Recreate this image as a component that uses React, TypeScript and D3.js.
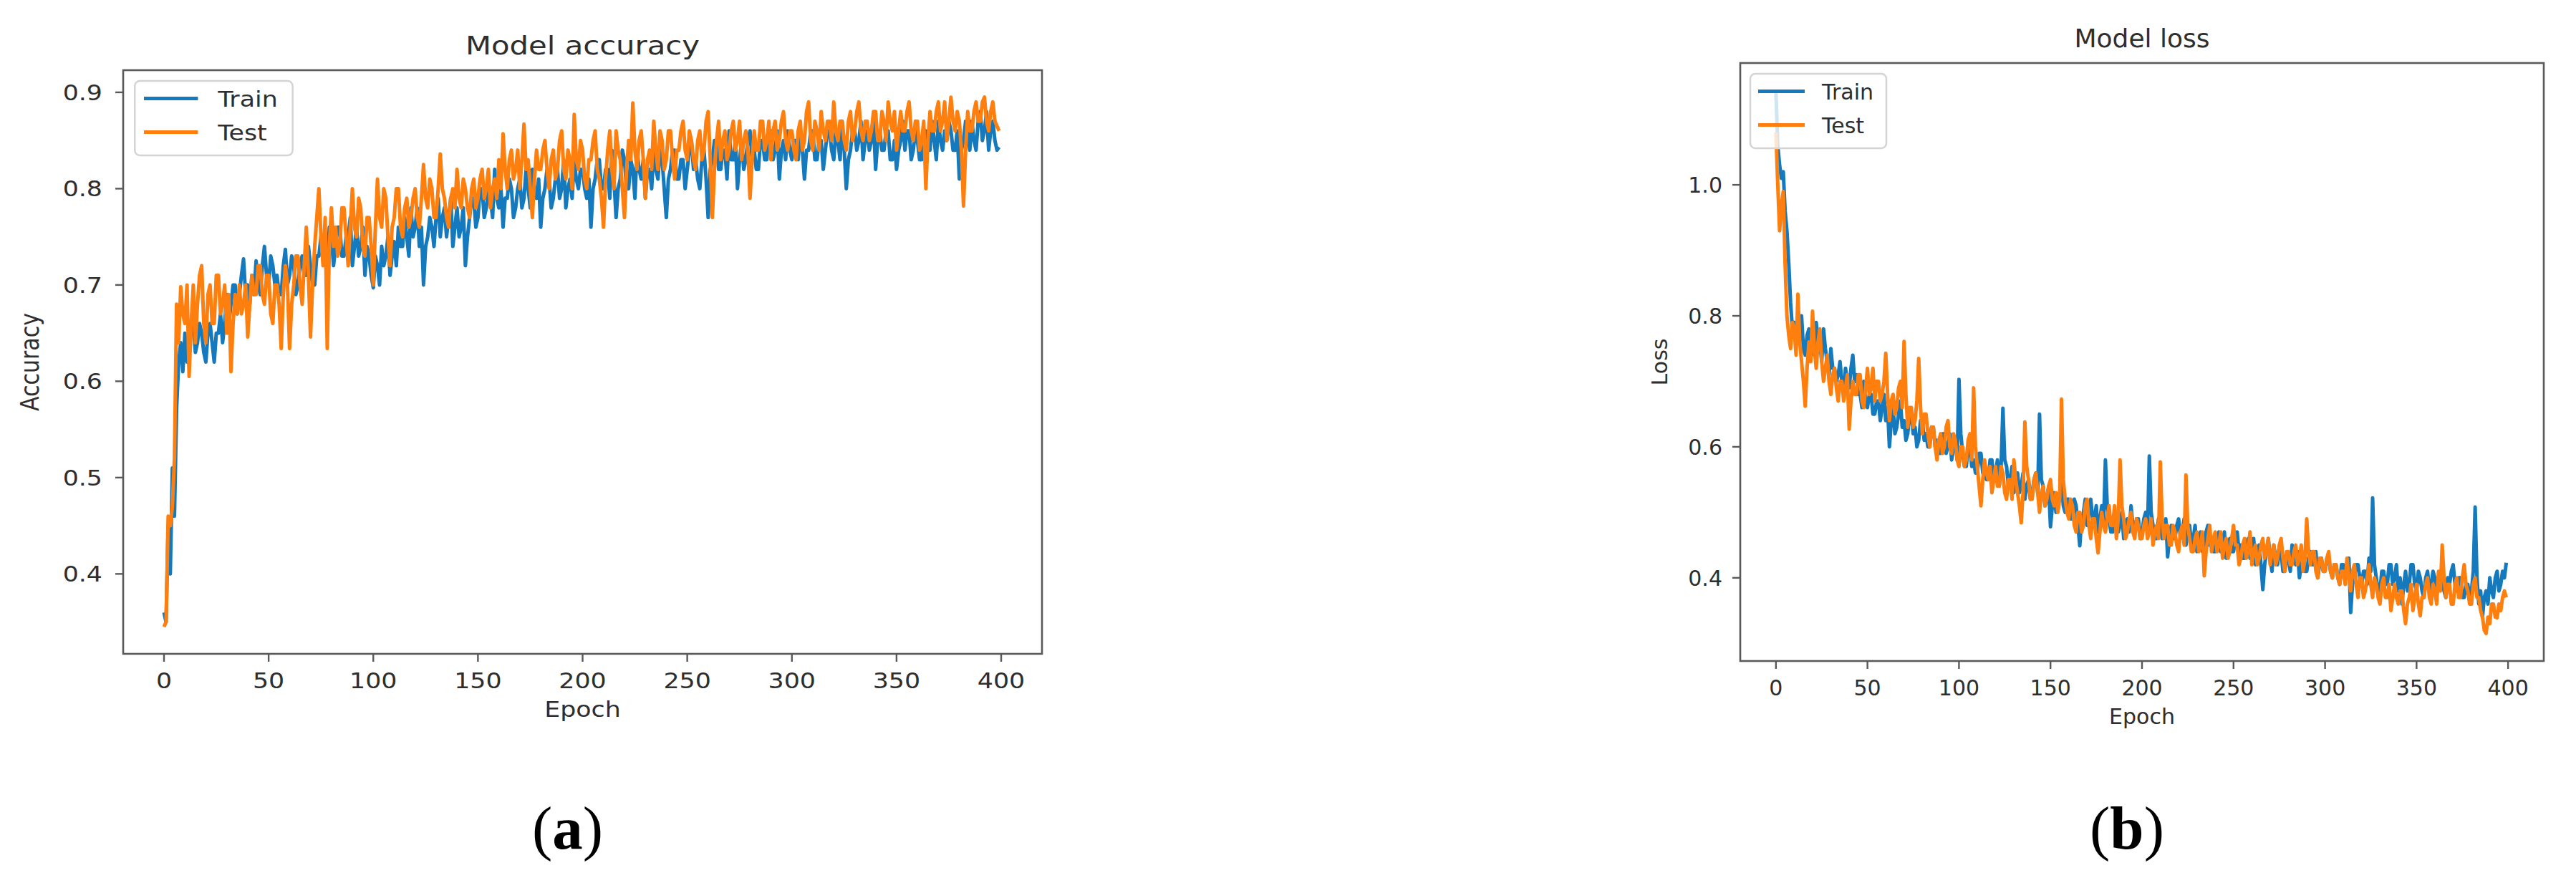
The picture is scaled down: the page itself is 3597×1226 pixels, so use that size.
import React from "react";
import * as d3 from "d3";

// one value per epoch
const epochs = d3.range(0, 400);

const accTrain = [
  0.36, 0.35, 0.45, 0.40, 0.51, 0.46, 0.57, 0.62, 0.64, 0.61, 0.65, 0.62, 0.63, 0.66, 0.66, 0.63, 0.64, 0.66, 0.65, 0.63,
  0.62, 0.65, 0.66, 0.64, 0.62, 0.65, 0.65, 0.67, 0.64, 0.66, 0.69, 0.66, 0.68, 0.70, 0.70, 0.67, 0.69, 0.71, 0.727, 0.69,
  0.70, 0.68, 0.71, 0.69, 0.725, 0.70, 0.69, 0.72, 0.74, 0.71, 0.70, 0.73, 0.72, 0.70, 0.71, 0.69, 0.69, 0.72, 0.737, 0.70,
  0.71, 0.73, 0.72, 0.69, 0.70, 0.72, 0.73, 0.71, 0.71, 0.74, 0.72, 0.70, 0.70, 0.73, 0.73, 0.75, 0.74, 0.72, 0.72, 0.76,
  0.75, 0.72, 0.74, 0.76, 0.76, 0.73, 0.73, 0.75, 0.75, 0.77, 0.72, 0.74, 0.76, 0.73, 0.74, 0.76, 0.71, 0.74, 0.73, 0.71,
  0.697, 0.73, 0.72, 0.70, 0.74, 0.72, 0.73, 0.75, 0.71, 0.73, 0.745, 0.72, 0.76, 0.74, 0.74, 0.77, 0.75, 0.73, 0.78, 0.75,
  0.76, 0.78, 0.74, 0.76, 0.70, 0.74, 0.75, 0.77, 0.76, 0.74, 0.77, 0.79, 0.75, 0.77, 0.78, 0.75, 0.77, 0.79, 0.74, 0.76,
  0.78, 0.75, 0.76, 0.78, 0.72, 0.75, 0.77, 0.79, 0.79, 0.76, 0.77, 0.80, 0.80, 0.77, 0.78, 0.80, 0.79, 0.77, 0.82, 0.79,
  0.78, 0.80, 0.76, 0.79, 0.79, 0.81, 0.80, 0.77, 0.78, 0.80, 0.81, 0.78, 0.79, 0.82, 0.80, 0.78, 0.82, 0.80, 0.79, 0.81,
  0.76, 0.79, 0.80, 0.82, 0.81, 0.78, 0.79, 0.81, 0.82, 0.79, 0.80, 0.83, 0.78, 0.80, 0.81, 0.79, 0.83, 0.81, 0.80, 0.82,
  0.82, 0.80, 0.79, 0.81, 0.76, 0.80, 0.81, 0.83, 0.83, 0.80, 0.80, 0.82, 0.82, 0.79, 0.84, 0.81, 0.77, 0.80, 0.81, 0.84,
  0.83, 0.80, 0.80, 0.83, 0.82, 0.79, 0.84, 0.82, 0.81, 0.83, 0.79, 0.82, 0.82, 0.80, 0.84, 0.82, 0.81, 0.84, 0.83, 0.80,
  0.77, 0.81, 0.82, 0.84, 0.84, 0.81, 0.81, 0.83, 0.83, 0.80, 0.82, 0.84, 0.85, 0.82, 0.83, 0.81, 0.80, 0.83, 0.84, 0.81,
  0.77, 0.82, 0.83, 0.85, 0.85, 0.82, 0.82, 0.84, 0.84, 0.81, 0.86, 0.83, 0.83, 0.85, 0.80, 0.83, 0.85, 0.82, 0.83, 0.85,
  0.86, 0.83, 0.84, 0.82, 0.82, 0.85, 0.85, 0.83, 0.83, 0.86, 0.86, 0.83, 0.84, 0.86, 0.81, 0.84, 0.85, 0.83, 0.86, 0.84,
  0.83, 0.85, 0.85, 0.83, 0.86, 0.84, 0.81, 0.84, 0.84, 0.86, 0.86, 0.83, 0.83, 0.85, 0.85, 0.82, 0.84, 0.86, 0.86, 0.84,
  0.83, 0.86, 0.85, 0.83, 0.87, 0.84, 0.80, 0.83, 0.84, 0.86, 0.86, 0.84, 0.85, 0.87, 0.83, 0.85, 0.86, 0.84, 0.85, 0.87,
  0.82, 0.85, 0.86, 0.84, 0.84, 0.86, 0.86, 0.83, 0.83, 0.85, 0.82, 0.84, 0.85, 0.87, 0.84, 0.86, 0.86, 0.83, 0.84, 0.86,
  0.85, 0.83, 0.83, 0.86, 0.86, 0.84, 0.84, 0.87, 0.85, 0.83, 0.87, 0.85, 0.84, 0.86, 0.85, 0.87, 0.86, 0.84, 0.84, 0.86,
  0.81, 0.84, 0.85, 0.87, 0.86, 0.84, 0.87, 0.85, 0.84, 0.87, 0.88, 0.85, 0.86, 0.88, 0.84, 0.86, 0.87, 0.85, 0.84, 0.843,
];

const accTest = [
  0.345, 0.35, 0.46, 0.45, 0.47, 0.52, 0.68, 0.64, 0.698, 0.67, 0.66, 0.70, 0.605, 0.66, 0.70, 0.64, 0.68, 0.71, 0.72, 0.66,
  0.64, 0.69, 0.70, 0.66, 0.66, 0.71, 0.71, 0.67, 0.68, 0.70, 0.65, 0.69, 0.61, 0.66, 0.69, 0.67, 0.70, 0.67, 0.68, 0.70,
  0.646, 0.68, 0.71, 0.69, 0.69, 0.72, 0.72, 0.69, 0.68, 0.71, 0.71, 0.67, 0.66, 0.70, 0.70, 0.68, 0.634, 0.69, 0.72, 0.70,
  0.634, 0.68, 0.70, 0.73, 0.73, 0.70, 0.68, 0.72, 0.76, 0.71, 0.646, 0.70, 0.74, 0.77, 0.80, 0.75, 0.72, 0.77, 0.634, 0.74,
  0.78, 0.74, 0.76, 0.73, 0.74, 0.78, 0.78, 0.75, 0.72, 0.76, 0.80, 0.76, 0.75, 0.79, 0.78, 0.74, 0.73, 0.77, 0.77, 0.74,
  0.70, 0.76, 0.81, 0.77, 0.76, 0.80, 0.79, 0.75, 0.72, 0.76, 0.77, 0.80, 0.80, 0.76, 0.75, 0.78, 0.79, 0.76, 0.77, 0.79,
  0.80, 0.77, 0.76, 0.79, 0.825, 0.79, 0.78, 0.81, 0.80, 0.77, 0.77, 0.80, 0.836, 0.80, 0.79, 0.77, 0.76, 0.79, 0.80, 0.78,
  0.82, 0.79, 0.78, 0.81, 0.80, 0.78, 0.77, 0.80, 0.81, 0.78, 0.79, 0.81, 0.82, 0.79, 0.80, 0.82, 0.78, 0.80, 0.81, 0.79,
  0.83, 0.80, 0.857, 0.82, 0.80, 0.83, 0.84, 0.81, 0.82, 0.84, 0.80, 0.83, 0.867, 0.82, 0.83, 0.80, 0.77, 0.81, 0.84, 0.82,
  0.82, 0.84, 0.85, 0.82, 0.80, 0.83, 0.84, 0.81, 0.82, 0.85, 0.86, 0.82, 0.81, 0.84, 0.83, 0.80, 0.877, 0.83, 0.82, 0.85,
  0.84, 0.81, 0.80, 0.83, 0.83, 0.85, 0.86, 0.82, 0.81, 0.79, 0.76, 0.81, 0.84, 0.86, 0.82, 0.80, 0.86, 0.84, 0.83, 0.80,
  0.77, 0.82, 0.85, 0.83, 0.889, 0.84, 0.82, 0.85, 0.86, 0.83, 0.79, 0.83, 0.84, 0.82, 0.87, 0.84, 0.82, 0.86, 0.85, 0.82,
  0.83, 0.86, 0.86, 0.83, 0.81, 0.84, 0.84, 0.86, 0.87, 0.84, 0.83, 0.86, 0.85, 0.83, 0.82, 0.85, 0.86, 0.83, 0.84, 0.87,
  0.88, 0.83, 0.77, 0.82, 0.85, 0.87, 0.83, 0.85, 0.86, 0.83, 0.84, 0.86, 0.87, 0.84, 0.85, 0.87, 0.83, 0.85, 0.86, 0.84,
  0.79, 0.83, 0.86, 0.84, 0.84, 0.87, 0.87, 0.84, 0.85, 0.87, 0.83, 0.86, 0.87, 0.84, 0.85, 0.87, 0.88, 0.85, 0.84, 0.86,
  0.86, 0.84, 0.83, 0.86, 0.87, 0.84, 0.85, 0.88, 0.89, 0.85, 0.84, 0.87, 0.86, 0.84, 0.88, 0.86, 0.85, 0.87, 0.87, 0.85,
  0.89, 0.86, 0.85, 0.87, 0.87, 0.85, 0.84, 0.87, 0.88, 0.85, 0.86, 0.88, 0.89, 0.86, 0.85, 0.87, 0.87, 0.85, 0.86, 0.88,
  0.88, 0.85, 0.85, 0.88, 0.87, 0.85, 0.89, 0.87, 0.86, 0.88, 0.84, 0.86, 0.88, 0.86, 0.86, 0.88, 0.89, 0.86, 0.85, 0.87,
  0.87, 0.84, 0.85, 0.87, 0.80, 0.85, 0.88, 0.86, 0.86, 0.88, 0.89, 0.86, 0.87, 0.89, 0.85, 0.87, 0.895, 0.87, 0.86, 0.88,
  0.87, 0.84, 0.782, 0.84, 0.88, 0.86, 0.86, 0.88, 0.89, 0.87, 0.87, 0.89, 0.895, 0.87, 0.86, 0.88, 0.89, 0.87, 0.865, 0.86,
];

const lossTrain = [
  1.14, 1.06, 1.03, 1.01, 1.02, 0.96, 0.93, 0.88, 0.82, 0.78, 0.79, 0.76, 0.76, 0.78, 0.80, 0.75, 0.74, 0.77, 0.78, 0.75,
  0.77, 0.74, 0.79, 0.76, 0.76, 0.73, 0.78, 0.75, 0.73, 0.71, 0.75, 0.72, 0.72, 0.70, 0.71, 0.73, 0.70, 0.68, 0.72, 0.70,
  0.69, 0.72, 0.74, 0.70, 0.71, 0.68, 0.68, 0.66, 0.70, 0.67, 0.66, 0.68, 0.68, 0.65, 0.65, 0.67, 0.67, 0.64, 0.66, 0.68,
  0.64, 0.66, 0.60, 0.64, 0.66, 0.62, 0.63, 0.65, 0.67, 0.63, 0.64, 0.61, 0.62, 0.65, 0.65, 0.62, 0.63, 0.60, 0.61, 0.64,
  0.64, 0.61, 0.62, 0.60, 0.60, 0.63, 0.63, 0.60, 0.61, 0.59, 0.59, 0.62, 0.62, 0.59, 0.60, 0.62, 0.58, 0.60, 0.61, 0.58,
  0.703, 0.62, 0.59, 0.57, 0.57, 0.60, 0.60, 0.57, 0.58, 0.56, 0.56, 0.59, 0.59, 0.56, 0.57, 0.55, 0.55, 0.58, 0.58, 0.55,
  0.56, 0.58, 0.54, 0.57, 0.659, 0.58, 0.57, 0.54, 0.55, 0.57, 0.53, 0.55, 0.56, 0.53, 0.54, 0.56, 0.52, 0.54, 0.55, 0.52,
  0.53, 0.55, 0.56, 0.53, 0.65, 0.55, 0.54, 0.51, 0.52, 0.54, 0.478, 0.51, 0.53, 0.50, 0.51, 0.53, 0.55, 0.51, 0.50, 0.52,
  0.52, 0.49, 0.49, 0.52, 0.51, 0.48, 0.449, 0.49, 0.50, 0.52, 0.48, 0.50, 0.52, 0.49, 0.49, 0.51, 0.47, 0.49, 0.51, 0.48,
  0.58, 0.51, 0.49, 0.47, 0.47, 0.50, 0.50, 0.47, 0.48, 0.50, 0.46, 0.48, 0.49, 0.47, 0.51, 0.48, 0.47, 0.49, 0.49, 0.46,
  0.47, 0.49, 0.50, 0.47, 0.586, 0.50, 0.48, 0.46, 0.46, 0.49, 0.49, 0.46, 0.47, 0.49, 0.432, 0.46, 0.48, 0.46, 0.46, 0.48,
  0.49, 0.46, 0.47, 0.49, 0.45, 0.47, 0.48, 0.45, 0.46, 0.48, 0.44, 0.46, 0.47, 0.44, 0.45, 0.47, 0.48, 0.45, 0.46, 0.44,
  0.44, 0.46, 0.47, 0.44, 0.45, 0.47, 0.43, 0.45, 0.46, 0.44, 0.44, 0.46, 0.47, 0.44, 0.45, 0.43, 0.43, 0.45, 0.46, 0.43,
  0.44, 0.46, 0.42, 0.44, 0.45, 0.42, 0.382, 0.42, 0.44, 0.46, 0.43, 0.41, 0.45, 0.43, 0.42, 0.44, 0.44, 0.41, 0.41, 0.43,
  0.43, 0.41, 0.45, 0.43, 0.42, 0.44, 0.40, 0.42, 0.43, 0.41, 0.41, 0.43, 0.44, 0.42, 0.42, 0.44, 0.40, 0.42, 0.43, 0.41,
  0.41, 0.43, 0.43, 0.41, 0.40, 0.42, 0.42, 0.40, 0.39, 0.42, 0.42, 0.40, 0.41, 0.43, 0.347, 0.39, 0.40, 0.42, 0.42, 0.40,
  0.39, 0.41, 0.41, 0.39, 0.43, 0.41, 0.522, 0.42, 0.40, 0.38, 0.38, 0.41, 0.41, 0.39, 0.39, 0.42, 0.42, 0.39, 0.40, 0.42,
  0.38, 0.40, 0.36, 0.39, 0.41, 0.38, 0.39, 0.42, 0.42, 0.39, 0.38, 0.41, 0.40, 0.38, 0.37, 0.40, 0.41, 0.38, 0.39, 0.41,
  0.40, 0.38, 0.38, 0.40, 0.41, 0.38, 0.37, 0.40, 0.39, 0.41, 0.42, 0.39, 0.38, 0.40, 0.40, 0.37, 0.37, 0.39, 0.39, 0.37,
  0.38, 0.41, 0.508, 0.40, 0.36, 0.38, 0.34, 0.37, 0.38, 0.36, 0.40, 0.38, 0.37, 0.40, 0.41, 0.38, 0.39, 0.41, 0.40, 0.423,
];

const lossTest = [
  1.08, 1.00, 0.93, 0.97, 0.99, 0.88, 0.80, 0.77, 0.75, 0.79, 0.78, 0.74, 0.833, 0.76, 0.73, 0.70, 0.662, 0.72, 0.76, 0.73,
  0.807, 0.75, 0.72, 0.76, 0.78, 0.73, 0.70, 0.72, 0.74, 0.70, 0.68, 0.71, 0.72, 0.69, 0.67, 0.70, 0.70, 0.67, 0.69, 0.71,
  0.627, 0.67, 0.70, 0.68, 0.68, 0.71, 0.71, 0.67, 0.66, 0.69, 0.72, 0.68, 0.69, 0.72, 0.67, 0.70, 0.70, 0.67, 0.68, 0.70,
  0.743, 0.68, 0.64, 0.67, 0.68, 0.65, 0.66, 0.69, 0.70, 0.66, 0.761, 0.68, 0.63, 0.66, 0.66, 0.63, 0.64, 0.67, 0.735, 0.66,
  0.62, 0.65, 0.65, 0.62, 0.60, 0.63, 0.63, 0.60, 0.58, 0.61, 0.62, 0.59, 0.60, 0.63, 0.64, 0.60, 0.59, 0.62, 0.61, 0.58,
  0.57, 0.60, 0.60, 0.57, 0.58, 0.61, 0.62, 0.58, 0.69, 0.60, 0.57, 0.54, 0.51, 0.55, 0.58, 0.56, 0.55, 0.57, 0.53, 0.55,
  0.57, 0.54, 0.54, 0.57, 0.56, 0.53, 0.52, 0.55, 0.55, 0.52, 0.58, 0.55, 0.53, 0.51, 0.484, 0.53, 0.638, 0.57, 0.55, 0.52,
  0.52, 0.55, 0.56, 0.53, 0.50, 0.53, 0.54, 0.51, 0.52, 0.54, 0.55, 0.52, 0.51, 0.53, 0.50, 0.52, 0.673, 0.55, 0.52, 0.50,
  0.49, 0.52, 0.51, 0.48, 0.47, 0.50, 0.50, 0.47, 0.48, 0.51, 0.52, 0.48, 0.46, 0.49, 0.49, 0.46, 0.438, 0.47, 0.50, 0.48,
  0.47, 0.49, 0.51, 0.48, 0.48, 0.51, 0.46, 0.49, 0.58, 0.51, 0.49, 0.46, 0.47, 0.49, 0.50, 0.47, 0.46, 0.49, 0.48, 0.46,
  0.46, 0.48, 0.49, 0.46, 0.47, 0.49, 0.45, 0.47, 0.48, 0.46, 0.577, 0.49, 0.46, 0.48, 0.48, 0.45, 0.45, 0.48, 0.47, 0.45,
  0.44, 0.47, 0.48, 0.45, 0.557, 0.48, 0.46, 0.44, 0.44, 0.46, 0.47, 0.44, 0.45, 0.47, 0.403, 0.44, 0.46, 0.48, 0.44, 0.46,
  0.47, 0.44, 0.45, 0.47, 0.43, 0.45, 0.46, 0.43, 0.44, 0.46, 0.48, 0.45, 0.45, 0.42, 0.43, 0.45, 0.46, 0.43, 0.44, 0.47,
  0.42, 0.44, 0.45, 0.42, 0.43, 0.45, 0.46, 0.43, 0.44, 0.46, 0.42, 0.44, 0.45, 0.42, 0.43, 0.45, 0.46, 0.43, 0.41, 0.44,
  0.44, 0.42, 0.42, 0.44, 0.45, 0.42, 0.43, 0.45, 0.41, 0.43, 0.49, 0.44, 0.42, 0.44, 0.44, 0.41, 0.40, 0.43, 0.43, 0.41,
  0.41, 0.43, 0.44, 0.41, 0.40, 0.42, 0.42, 0.40, 0.39, 0.41, 0.41, 0.39, 0.43, 0.40, 0.38, 0.41, 0.42, 0.39, 0.37, 0.40,
  0.40, 0.37, 0.38, 0.40, 0.42, 0.39, 0.37, 0.40, 0.39, 0.37, 0.36, 0.39, 0.40, 0.37, 0.37, 0.39, 0.35, 0.37, 0.39, 0.37,
  0.36, 0.38, 0.38, 0.35, 0.33, 0.36, 0.37, 0.39, 0.35, 0.37, 0.39, 0.36, 0.342, 0.37, 0.37, 0.39, 0.40, 0.37, 0.36, 0.39,
  0.38, 0.36, 0.41, 0.38, 0.45, 0.40, 0.37, 0.39, 0.39, 0.36, 0.36, 0.39, 0.40, 0.37, 0.37, 0.40, 0.42, 0.39, 0.38, 0.36,
  0.36, 0.39, 0.40, 0.37, 0.37, 0.35, 0.34, 0.32, 0.315, 0.34, 0.33, 0.36, 0.36, 0.34, 0.339, 0.36, 0.35, 0.37, 0.38, 0.37,
];

const xTickValues = [0, 50, 100, 150, 200, 250, 300, 350, 400];
const accTickValues = [0.4, 0.5, 0.6, 0.7, 0.8, 0.9];
const lossTickValues = [0.4, 0.6, 0.8, 1.0];
const legendLabels = ["Train", "Test"];
const seriesColors = ["#1479bd", "#ff7f0e"];

const FONT = "'DejaVu Sans', sans-serif";
const INK = "#2e2e2e";
const SPINE = "#595959";
const TICK_SIZE = 30;

// text that can be stretched sideways (the left figure was widened as a bitmap)
function Txt({ x, y, sx = 1, rotate = false, anchor = "middle", size = TICK_SIZE, children }) {
  return (
    <text
      transform={`translate(${x},${y}) scale(${sx},1)${rotate ? " rotate(-90)" : ""}`}
      textAnchor={anchor}
      fontFamily={FONT}
      fontSize={size}
      fill={INK}
    >
      {children}
    </text>
  );
}

function Panel(props) {
  const { id, left, top, width, height, yDomain, yTicks, yFmt, series, title, yLabel, caption, sx } = props;
  const bottom = top + height;
  const xScale = d3.scaleLinear().domain([-19.5, 419.5]).range([left, left + width]);
  const yScale = d3.scaleLinear().domain(yDomain).range([bottom, top]);
  const line = d3
    .line<number>()
    .x((d, i) => xScale(epochs[i]))
    .y((d) => yScale(d));
  const cx = left + width / 2;
  const lgX = left + 14 * sx;
  const lgY = top + 15;

  return (
    <g>
      <clipPath id={id}>
        <rect x={left} y={top} width={width} height={height} />
      </clipPath>
      <g clipPath={`url(#${id})`}>
        {series.map((s, k) => (
          <path
            key={k}
            d={line(s)}
            fill="none"
            stroke={seriesColors[k]}
            strokeWidth={5}
            strokeLinejoin="round"
          />
        ))}
      </g>

      {/* legend */}
      <rect
        x={lgX}
        y={lgY}
        width={190 * sx}
        height={104}
        rx={7}
        fill="white"
        fillOpacity={0.8}
        stroke="#d4d4d4"
        strokeWidth={2.5}
      />
      {legendLabels.map((lab, k) => {
        const ly = lgY + 24.5 + k * 47;
        return (
          <g key={lab}>
            <line x1={lgX + 11 * sx} x2={lgX + 76 * sx} y1={ly} y2={ly} stroke={seriesColors[k]} strokeWidth={5} />
            <Txt x={lgX + 100 * sx} y={ly + 11} sx={sx} anchor="start">
              {lab}
            </Txt>
          </g>
        );
      })}

      {/* spines */}
      <rect x={left} y={top} width={width} height={height} fill="none" stroke={SPINE} strokeWidth={2.6} />

      {/* x axis */}
      {xTickValues.map((t) => (
        <g key={t}>
          <line x1={xScale(t)} x2={xScale(t)} y1={bottom} y2={bottom + 11} stroke={SPINE} strokeWidth={2.4} />
          <Txt x={xScale(t)} y={bottom + 48} sx={sx}>
            {t}
          </Txt>
        </g>
      ))}
      <Txt x={cx} y={bottom + 88} sx={sx}>
        Epoch
      </Txt>

      {/* y axis */}
      {yTicks.map((t) => (
        <g key={t}>
          <line x1={left - 11} x2={left} y1={yScale(t)} y2={yScale(t)} stroke={SPINE} strokeWidth={2.4} />
          <Txt x={left - 25 * sx} y={yScale(t) + 11} sx={sx} anchor="end">
            {yFmt(t)}
          </Txt>
        </g>
      ))}
      <Txt x={left - 102 * sx} y={(top + bottom) / 2} sx={sx} rotate>
        {yLabel}
      </Txt>

      <Txt x={cx} y={top - 22} sx={sx} size={36}>
        {title}
      </Txt>

      <text
        x={cx - 21}
        y={1185}
        textAnchor="middle"
        fontFamily="'Liberation Serif', 'Times New Roman', serif"
        fontSize={85}
        fill="#000"
      >
        (<tspan fontWeight="bold">{caption}</tspan>)
      </text>
    </g>
  );
}

export default function App() {
  const fmt1 = d3.format(".1f");
  return (
    <svg
      width={3597}
      height={1226}
      style={{ position: "absolute", left: 0, top: 0, background: "white" }}
    >
      <rect width={3597} height={1226} fill="white" />
      <Panel
        id="clip-acc"
        left={172}
        top={98}
        width={1283}
        height={815}
        yDomain={[0.317, 0.923]}
        yTicks={accTickValues}
        yFmt={fmt1}
        series={[accTrain, accTest]}
        title="Model accuracy"
        yLabel="Accuracy"
        caption="a"
        sx={1.16}
      />
      <Panel
        id="clip-loss"
        left={2430}
        top={88}
        width={1122}
        height={835}
        yDomain={[0.273, 1.186]}
        yTicks={lossTickValues}
        yFmt={fmt1}
        series={[lossTrain, lossTest]}
        title="Model loss"
        yLabel="Loss"
        caption="b"
        sx={1}
      />
    </svg>
  );
}
